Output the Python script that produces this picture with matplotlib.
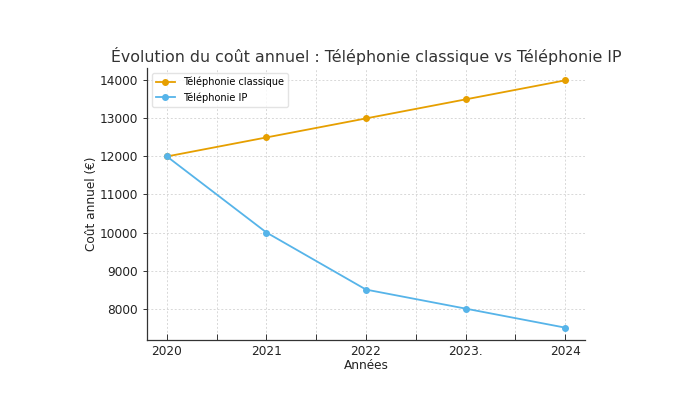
import matplotlib
matplotlib.use("Agg")
import matplotlib.pyplot as plt
from matplotlib.ticker import MultipleLocator

years = [2020, 2021, 2022, 2023, 2024]
year_labels = ["2020", "2021", "2022", "2023.", "2024"]
classique = [12000, 12500, 13000, 13500, 14000]
ip = [12000, 10000, 8500, 8000, 7500]

fig = plt.figure(figsize=(6.75, 3.97), dpi=100)
ax = fig.add_axes([0.2178, 0.1436, 0.8667 - 0.2178, 0.8287 - 0.1436])

ax.plot(years, classique, marker="o", markersize=4, color="#E69F00", linewidth=1.3,
        label="Téléphonie classique")
ax.plot(years, ip, marker="o", markersize=4, color="#56B4E9", linewidth=1.3,
        label="Téléphonie IP")

ax.set_xticks(years)
ax.set_xticklabels(year_labels)
ax.xaxis.set_minor_locator(MultipleLocator(0.5))
ax.yaxis.set_major_locator(MultipleLocator(1000))

ax.grid(True, which="both", axis="x", linestyle=(0, (2, 2)), color="#d8d8d8", linewidth=0.7)
ax.grid(True, which="major", axis="y", linestyle=(0, (2, 2)), color="#d8d8d8", linewidth=0.7)
ax.set_axisbelow(True)

for s in ["top", "right"]:
    ax.spines[s].set_visible(False)
for s in ["left", "bottom"]:
    ax.spines[s].set_color("#333333")
    ax.spines[s].set_linewidth(0.9)

ax.tick_params(axis="x", which="both", direction="in", length=4, width=0.7, colors="#333333",
               labelsize=8.7, labelcolor="#222222")
ax.tick_params(axis="y", which="both", direction="out", length=3, width=0.7, colors="#333333",
               labelsize=8.7, labelcolor="#222222")

ax.set_xlabel("Années", fontsize=8.7, color="#222222", labelpad=1)
ax.set_ylabel("Coût annuel (€)", fontsize=8.7, color="#222222", labelpad=1)
ax.set_title("Évolution du coût annuel : Téléphonie classique vs Téléphonie IP",
             fontsize=11.4, color="#333333", pad=4)

leg = ax.legend(loc="upper left", fontsize=7, frameon=True, framealpha=0.8,
                edgecolor="#dddddd", fancybox=True)

fig.savefig("out.png", dpi=100)
